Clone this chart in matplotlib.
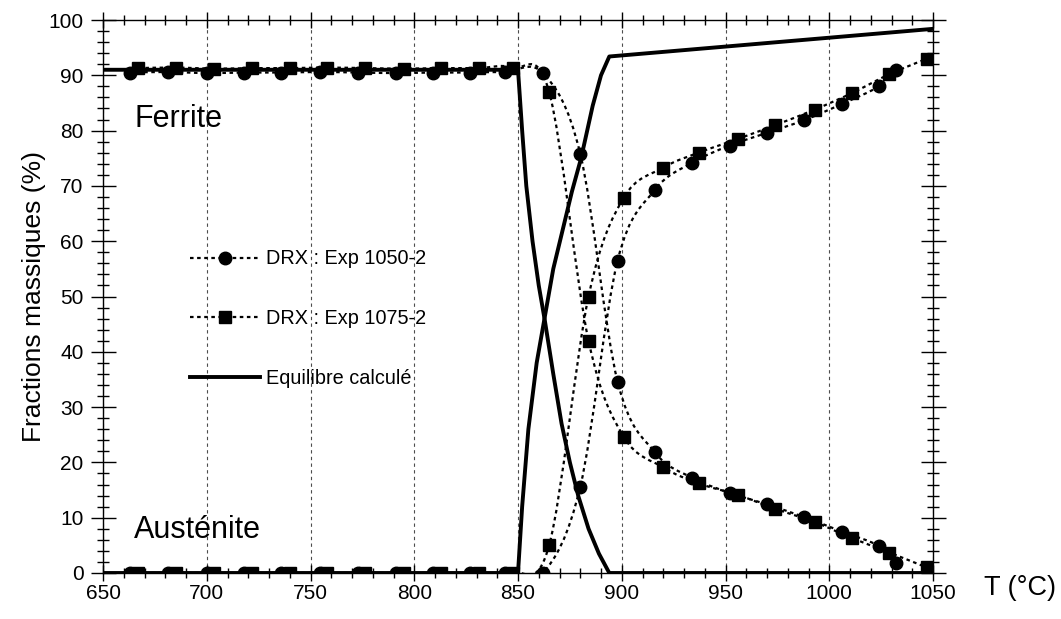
import numpy as np
import matplotlib
matplotlib.use('Agg')
import matplotlib.pyplot as plt
from matplotlib.path import Path
from matplotlib.patches import PathPatch
from matplotlib.lines import Line2D

plt.rcParams['font.family'] = ['Liberation Sans', 'DejaVu Sans']

# DRX : Exp 1050-2 (circles)
T_1050 = [663, 681.5, 700, 718, 736, 754.5, 773, 791, 809, 827, 843.5,
          862, 880, 898, 916, 934, 952, 970, 988, 1006, 1024, 1032]
ferrite_1050 = [90.5, 90.6, 90.4, 90.5, 90.5, 90.6, 90.5, 90.4, 90.5, 90.5, 90.6,
                90.4, 75.8, 34.6, 21.8, 17.2, 14.5, 12.4, 10.1, 7.5, 4.9, 1.8]
aust_1050 = [0, 0, 0, 0, 0, 0, 0, 0, 0, 0, 0,
             0, 15.6, 56.5, 69.3, 74.2, 77.3, 79.6, 81.9, 84.8, 88.0, 91.0]

# DRX : Exp 1075-2 (squares)
T_1075 = [667, 685, 703.5, 722, 740, 758, 776.5, 795, 813, 831, 847.5,
          865, 884, 901, 920, 937, 956, 974, 993, 1011, 1029, 1047]
ferrite_1075 = [91.3, 91.4, 91.2, 91.3, 91.3, 91.4, 91.3, 91.2, 91.3, 91.3, 91.4,
                87.0, 42.0, 24.6, 19.1, 16.2, 14.1, 11.6, 9.2, 6.3, 3.7, 1.0]
aust_1075 = [0, 0, 0, 0, 0, 0, 0, 0, 0, 0, 0,
             5.0, 50.0, 67.9, 73.3, 76.0, 78.5, 81.0, 83.8, 86.8, 90.2, 93.0]

# Equilibre calcule
eq_T_ferrite = [650, 850, 852, 854, 857, 860, 863, 867, 871, 875, 879, 884, 889, 894, 1050]
eq_ferrite = [91, 91, 80, 70, 60, 52, 45.5, 36, 27, 20, 14, 8, 3.5, 0, 0]
eq_T_aust = [650, 850, 852, 855, 859, 863, 867, 871.5, 876, 880.4, 886, 890, 894, 1050]
eq_aust = [0, 0, 12, 26, 38, 46.5, 55, 62, 69, 75, 84.5, 90, 93.4, 98.4]


def smooth_path(x, y):
    # Excel-like smoothed line (Catmull-Rom as cubic Bezier segments)
    p = np.column_stack([x, y]).astype(float)
    verts = [p[0]]
    codes = [Path.MOVETO]
    n = len(p)
    for i in range(n - 1):
        p0 = p[i - 1] if i > 0 else p[i]
        p3 = p[i + 2] if i + 2 < n else p[i + 1]
        c1 = p[i] + (p[i + 1] - p0) / 6.0
        c2 = p[i + 1] - (p3 - p[i]) / 6.0
        verts += [c1, c2, p[i + 1]]
        codes += [Path.CURVE4] * 3
    return Path(verts, codes)


dot_style = (0, (1.6, 1.6))
dot_lw = 1.6

fig = plt.figure(figsize=(10.61, 6.19), dpi=100)
ax = fig.add_axes([103 / 1061, 1 - 573 / 619, 830 / 1061, 553 / 619])

for xs, ys in [(T_1050, ferrite_1050), (T_1050, aust_1050),
               (T_1075, ferrite_1075), (T_1075, aust_1075)]:
    ax.add_patch(PathPatch(smooth_path(xs, ys), fill=False, edgecolor='black',
                           lw=dot_lw, linestyle=dot_style, zorder=3))

ax.plot(eq_T_ferrite, eq_ferrite, color='black', lw=2.8, zorder=4)
ax.plot(eq_T_aust, eq_aust, color='black', lw=2.8, zorder=4)

ax.plot(T_1050, ferrite_1050, 'o', color='black', ms=9, zorder=5)
ax.plot(T_1050, aust_1050, 'o', color='black', ms=9, zorder=5)
ax.plot(T_1075, ferrite_1075, 's', color='black', ms=8.5, zorder=5)
ax.plot(T_1075, aust_1075, 's', color='black', ms=8.5, zorder=5)

ax.set_xlim(650, 1050)
ax.set_ylim(0, 100)
ax.set_xticks(np.arange(650, 1051, 50))
ax.set_xticks(np.arange(650, 1051, 10), minor=True)
ax.set_yticks(np.arange(0, 101, 10))
ax.set_yticks(np.arange(0, 101, 2), minor=True)
ax.tick_params(which='both', direction='inout', top=True, right=True,
               labelsize=15, width=1.0, colors='black')
ax.tick_params(axis='x', which='major', length=12, pad=2)
ax.tick_params(axis='x', which='minor', length=7)
ax.tick_params(axis='y', which='major', length=18, pad=5)
ax.tick_params(axis='y', which='minor', length=9)
for s in ax.spines.values():
    s.set_linewidth(1.0)

ax.grid(axis='x', which='major', linestyle=(0, (3, 3)), lw=0.8, color='0.3')
ax.set_axisbelow(True)

ax.set_ylabel('Fractions massiques (%)', fontsize=19, labelpad=2)
fig.text(1020 / 1061, 1 - 588 / 619, 'T (°C)', fontsize=19.5, ha='center', va='center')

ax.text(665, 80.6, 'Ferrite', fontsize=22, va='baseline')
ax.text(665, 6.3, 'Austénite', fontsize=22, va='baseline')

handles = [
    Line2D([], [], color='black', lw=dot_lw, linestyle=dot_style, marker='o', ms=9),
    Line2D([], [], color='black', lw=dot_lw, linestyle=dot_style, marker='s', ms=8.5),
    Line2D([], [], color='black', lw=2.8),
]
labels = ['DRX : Exp 1050-2', 'DRX : Exp 1075-2', 'Equilibre calculé']
ax.legend(handles, labels, loc='upper left', bbox_to_anchor=(0.105, 0.585),
          frameon=False, fontsize=14.3, handlelength=3.5, handletextpad=0.3,
          labelspacing=2.05, borderaxespad=0, borderpad=0)

fig.savefig('out.png', dpi=100)
